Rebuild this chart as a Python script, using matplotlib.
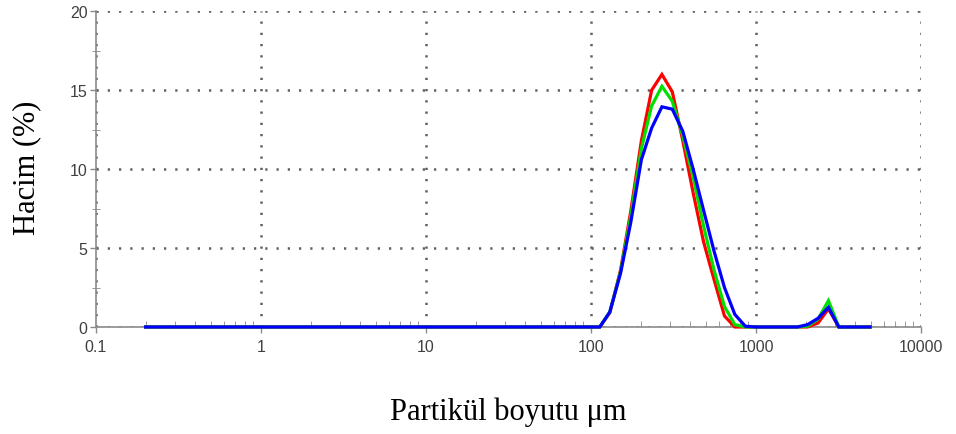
import matplotlib
matplotlib.use('Agg')
import matplotlib.pyplot as plt
from matplotlib.ticker import LogLocator, FixedLocator, NullFormatter

# particle size (um) and volume (%) for the three measurements
size_um = [0.2, 113, 130, 151, 174, 202, 233, 269, 311, 360, 416, 481, 557,
	644, 744, 861, 995, 1777, 2055, 2376, 2747, 3176, 4909]
red_vol = [0, 0, 0.9, 3.6, 7.3, 11.8, 15.0, 16.0, 14.9, 11.8, 8.5, 5.4, 3.0,
	0.7, 0, 0, 0, 0, 0, 0.25, 1.15, 0, 0]
green_vol = [0, 0, 0.95, 3.5, 7.0, 11.3, 14.0, 15.25, 14.3, 12.1, 9.5, 6.4, 3.6,
	1.3, 0.15, 0, 0, 0, 0.05, 0.5, 1.67, 0, 0]
blue_vol = [0, 0, 0.95, 3.4, 6.6, 10.6, 12.6, 13.95, 13.8, 12.4, 10.0, 7.4, 4.8,
	2.5, 0.8, 0.05, 0, 0, 0.15, 0.55, 1.25, 0, 0]

x_ticks = [0.1, 1, 10, 100, 1000, 10000]
x_labels = ["0.1", "1", "10", "100", "1000", "10000"]
y_ticks = [0, 5, 10, 15, 20]

fig = plt.figure(figsize=(9.56, 4.35), dpi=100)
ax = fig.add_axes([0.1004, 0.246, 0.8630, 0.7257])

for vals, col in [(red_vol, "#ff0000"), (green_vol, "#00e000"), (blue_vol, "#0000ff")]:
	ax.plot(size_um, vals, color=col, lw=2.3, solid_joinstyle="miter", clip_on=False, zorder=5)

ax.set_xscale("log")
ax.set_xlim(0.1, 10000)
ax.set_ylim(0, 20)

ax.xaxis.set_major_locator(FixedLocator(x_ticks))
ax.set_xticklabels(x_labels)
ax.xaxis.set_minor_locator(LogLocator(base=10, subs=range(2, 10), numticks=20))
ax.xaxis.set_minor_formatter(NullFormatter())
ax.set_yticks(y_ticks)
ax.yaxis.set_minor_locator(FixedLocator([2.5, 7.5, 12.5, 17.5]))

ax.grid(True, which="major", color="#606060", lw=1.8, linestyle=(0, (0.9, 3.6)))
ax.set_axisbelow(True)

for s in ["top", "right"]:
	ax.spines[s].set_visible(False)
for s in ["left", "bottom"]:
	ax.spines[s].set_color("#8a8a8a")
	ax.spines[s].set_linewidth(1.2)

ax.tick_params(axis="both", which="major", colors="#8a8a8a", labelcolor="#404040",
	labelsize=11.5, length=4, width=1.0)
ax.tick_params(axis="x", which="major", direction="out", pad=5)
ax.tick_params(axis="x", which="minor", direction="in", length=4, colors="#8a8a8a")
ax.tick_params(axis="y", which="major", direction="out", pad=2)
ax.tick_params(axis="y", which="minor", direction="inout", length=6, colors="#8a8a8a")
for lab in ax.get_xticklabels() + ax.get_yticklabels():
	lab.set_family("Liberation Sans")

ax.set_xlabel("Partikül boyutu μm", family="Liberation Serif", fontsize=22, color="black")
ax.set_ylabel("Hacim (%)", family="Liberation Serif", fontsize=22, color="black")
ax.xaxis.set_label_coords(0.5, -0.266)
ax.yaxis.set_label_coords(-0.084, 0.508)
ax.xaxis.label.set_va("center")
ax.yaxis.label.set_va("center")

fig.savefig("out.png", dpi=100)
